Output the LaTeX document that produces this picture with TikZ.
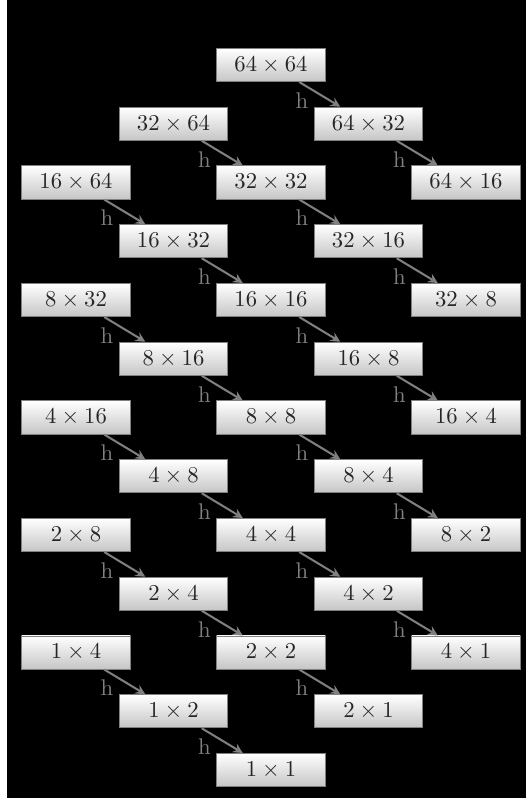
\documentclass[tikz,border=0pt]{standalone}
\begin{document}
\begin{tikzpicture}[x=0.441pt, y=-0.441pt, >=stealth,
    blk/.style={draw=gray, top color=white, bottom color=gray!45, text=black!85,
        minimum width=48pt, minimum height=14.6pt, inner sep=0pt},
    hedge/.style={->, draw=gray, line width=0.9pt}]
    \useasboundingbox (0,0) rectangle (526,798);
    \fill[black] (7,0) rectangle (526,798);

    % 块节点
    \node[blk] (s64x64) at (271,65) {$64\times64$};
    \node[blk] (s32x64) at (173.5,123.75) {$32\times64$};
    \node[blk] (s64x32) at (368.5,123.75) {$64\times32$};
    \node[blk] (s16x64) at (76,182.5) {$16\times64$};
    \node[blk] (s32x32) at (271,182.5) {$32\times32$};
    \node[blk] (s64x16) at (466,182.5) {$64\times16$};
    \node[blk] (s16x32) at (173.5,241.25) {$16\times32$};
    \node[blk] (s32x16) at (368.5,241.25) {$32\times16$};
    \node[blk] (s8x32) at (76,300) {$8\times32$};
    \node[blk] (s16x16) at (271,300) {$16\times16$};
    \node[blk] (s32x8) at (466,300) {$32\times8$};
    \node[blk] (s8x16) at (173.5,358.75) {$8\times16$};
    \node[blk] (s16x8) at (368.5,358.75) {$16\times8$};
    \node[blk] (s4x16) at (76,417.5) {$4\times16$};
    \node[blk] (s8x8) at (271,417.5) {$8\times8$};
    \node[blk] (s16x4) at (466,417.5) {$16\times4$};
    \node[blk] (s4x8) at (173.5,476.25) {$4\times8$};
    \node[blk] (s8x4) at (368.5,476.25) {$8\times4$};
    \node[blk] (s2x8) at (76,535) {$2\times8$};
    \node[blk] (s4x4) at (271,535) {$4\times4$};
    \node[blk] (s8x2) at (466,535) {$8\times2$};
    \node[blk] (s2x4) at (173.5,593.75) {$2\times4$};
    \node[blk] (s4x2) at (368.5,593.75) {$4\times2$};
    \node[blk] (s1x4) at (76,652.5) {$1\times4$};
    \node[blk] (s2x2) at (271,652.5) {$2\times2$};
    \node[blk] (s4x1) at (466,652.5) {$4\times1$};
    \node[blk] (s1x2) at (173.5,711.25) {$1\times2$};
    \node[blk] (s2x1) at (368.5,711.25) {$2\times1$};
    \node[blk] (s1x1) at (271,770) {$1\times1$};

    % 水平划分
    \foreach \a/\b in {s64x64/s64x32, s32x64/s32x32, s64x32/s64x16,
        s16x64/s16x32, s32x32/s32x16, s16x32/s16x16, s32x16/s32x8,
        s8x32/s8x16, s16x16/s16x8, s8x16/s8x8, s16x8/s16x4,
        s4x16/s4x8, s8x8/s8x4, s4x8/s4x4, s8x4/s8x2,
        s2x8/s2x4, s4x4/s4x2, s2x4/s2x2, s4x2/s4x1,
        s1x4/s1x2, s2x2/s2x1, s1x2/s1x1}
        \draw[hedge] (\a) to node[pos=0.3, below left, inner sep=1pt, text=gray] {h} (\b);
\end{tikzpicture}
\end{document}
